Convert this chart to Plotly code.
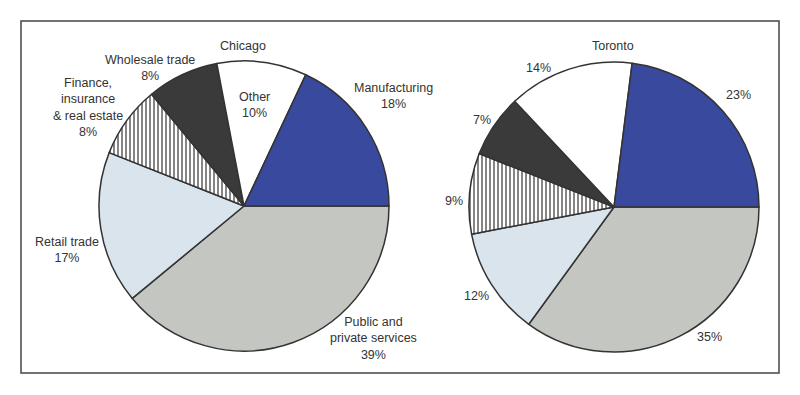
import plotly.graph_objects as go

sectors = ["Public and private services", "Retail trade", "Finance, insurance & real estate",
           "Wholesale trade", "Other", "Manufacturing"]
chicago = [39, 17, 8, 8, 10, 18]
toronto = [35, 12, 9, 7, 14, 23]
colors = ["#c4c6c2", "#d9e4ec", "#ffffff", "#3a3a3a", "#ffffff", "#394a9e"]
shapes = ["", "", "|", "", "", ""]

# label lines per slice (Chicago), Toronto shows only percentages
chicago_labels = [
    ["Public and", "private services", "39%"],
    ["Retail trade", "17%"],
    ["Finance,", "insurance", "& real estate", "8%"],
    ["Wholesale trade", "8%"],
    ["Other", "10%"],
    ["Manufacturing", "18%"],
]
toronto_labels = [["35%"], ["12%"], ["9%"], ["7%"], ["14%"], ["23%"]]

W, H = 800, 395
fig = go.Figure()

def dom(cx, cy, r):
    return dict(x=[(cx - r) / W, (cx + r) / W], y=[(H - cy - r) / H, (H - cy + r) / H])

for vals, (cx, cy) in [(chicago, (244, 206)), (toronto, (614, 207))]:
    fig.add_trace(go.Pie(
        labels=sectors, values=vals, sort=False, direction="clockwise", rotation=90,
        textinfo="none", hoverinfo="label+percent", showlegend=False,
        marker=dict(colors=colors, line=dict(color="#333333", width=1.5),
                    pattern=dict(shape=shapes, fgcolor="#333333", bgcolor=colors,
                                 size=4, solidity=0.3)),
        domain=dom(cx, cy, 145),
    ))

FONT = "Liberation Sans, Arial, sans-serif"
# anchor (center x, first-line center y) for each slice label
chicago_pos = [(373, 325), (67, 243), (88, 88), (150, 61), (255, 99), (393, 90)]
toronto_pos = [(709, 337), (477, 296), (454, 201), (482, 120), (538, 68), (738, 95)]
LINE = 13

def add_label(lines, x, y):
    yc = y + (len(lines) - 1) * LINE / 2
    fig.add_annotation(text="<br>".join(lines), x=x / W, y=1 - yc / H,
                       xref="paper", yref="paper", showarrow=False,
                       xanchor="center", yanchor="middle", align="center", borderpad=0,
                       font=dict(family=FONT, size=12.5, color="#333333"))

for lines, (x, y) in zip(chicago_labels, chicago_pos):
    add_label(lines, x, y)
for lines, (x, y) in zip(toronto_labels, toronto_pos):
    add_label(lines, x, y)
add_label(["Chicago"], 243, 46)
add_label(["Toronto"], 613, 46)

fig.add_shape(type="rect", xref="paper", yref="paper",
              x0=21 / W, x1=779 / W, y0=1 - 373 / H, y1=1 - 21 / H,
              line=dict(color="#444444", width=1.5))

fig.update_layout(width=W, height=H, margin=dict(l=0, r=0, t=0, b=0),
                  paper_bgcolor="white", plot_bgcolor="white")
fig.write_html("out.html", config={"displayModeBar": False},
               post_script="document.body.style.margin='0';")
